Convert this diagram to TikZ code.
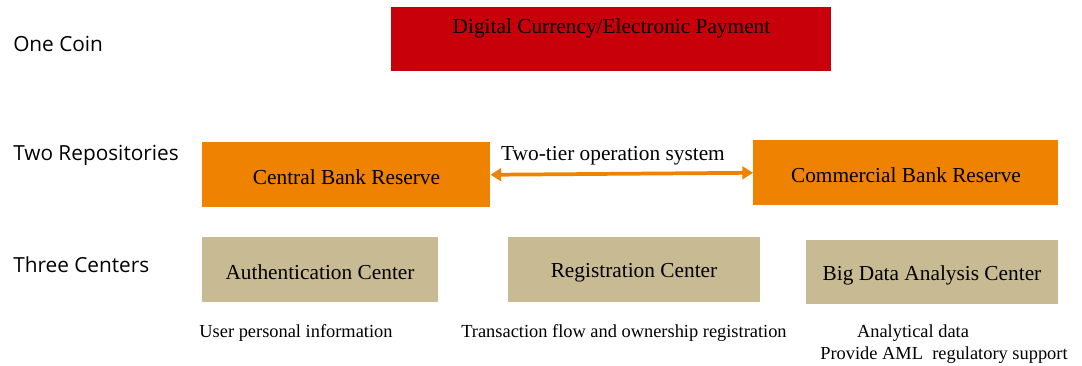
\documentclass[tikz,border=0pt]{standalone}
\usepackage{fontspec}
\setmainfont{Liberation Serif}
\newfontfamily\labelfont{Open Sans}
\usetikzlibrary{arrows.meta}
\definecolor{coinred}{HTML}{C8000A}
\definecolor{reserveorange}{HTML}{EF8200}
\definecolor{centertan}{HTML}{C8BB93}
\begin{document}
\begin{tikzpicture}[x=0.75pt,y=-0.75pt,
  box/.style={draw=none,inner sep=0pt,anchor=north west},
  boxtext/.style={font=\fontsize{16}{19}\selectfont,inner sep=0pt},
  rowlabel/.style={font=\labelfont\fontsize{15.6}{18}\selectfont,anchor=west,inner sep=0pt},
  note/.style={font=\fontsize{13.8}{16}\selectfont,inner sep=0pt}]
\useasboundingbox (0,0) rectangle (1082,365);

% row labels
\node[rowlabel] (lone) at (13,44) {One Coin};
\node[rowlabel] (ltwo) at (13,155) {Two Repositories};
\node[rowlabel] (lthree) at (13,265) {Three Centers};

% one coin
\node[box,fill=coinred,minimum width=440*0.75pt,minimum height=64*0.75pt] (coin) at (391,7) {};
\node[boxtext] (cointext) at (611.5,28) {Digital Currency/Electronic Payment};

% two repositories
\node[box,fill=reserveorange,minimum width=288*0.75pt,minimum height=65*0.75pt] (cbr) at (202,142) {};
\node[boxtext] (cbrtext) at (346.5,177.5) {Central Bank Reserve};
\node[box,fill=reserveorange,minimum width=305*0.75pt,minimum height=65*0.75pt] (cmr) at (753,140) {};
\node[boxtext] (cmrtext) at (906,175.5) {Commercial Bank Reserve};

\draw[reserveorange,line width=2.8pt,
  {Triangle[length=8pt,width=9.5pt]}-{Triangle[length=8pt,width=9.5pt]}]
  (cbr.east) -- (cmr.west);
\node[boxtext] (tier) at (613,156) {Two-tier operation system};

% three centers
\node[box,fill=centertan,minimum width=236*0.75pt,minimum height=65*0.75pt] (auth) at (202,237) {};
\node[boxtext] (authtext) at (320,272.5) {Authentication Center};
\node[box,fill=centertan,minimum width=252*0.75pt,minimum height=65*0.75pt] (reg) at (508,237) {};
\node[boxtext] (regtext) at (634,272.5) {Registration Center};
\node[box,fill=centertan,minimum width=252*0.75pt,minimum height=64*0.75pt] (bigd) at (806,240) {};
\node[boxtext] (bigdtext) at (932,275.5) {Big Data Analysis Center};

% descriptions
\node[note] (authnote) at (296,333) {User personal information};
\node[note] (regnote) at (624,333) {Transaction flow and ownership registration};
\node[note] (bignote1) at (913,333) {Analytical data};
\node[note] (bignote2) at (944,355) {Provide AML\ \ regulatory support};
\end{tikzpicture}
\end{document}
